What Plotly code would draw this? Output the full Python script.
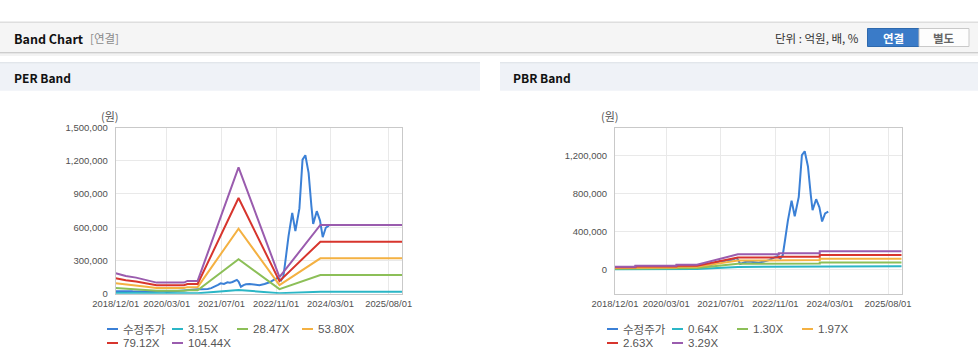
import plotly.graph_objects as go

W, H = 978, 361

# ---------------- data ----------------
price_dates = ["2018-12-01", "2019-01-01", "2019-02-01", "2019-03-01", "2019-04-01", "2019-05-01",
               "2019-06-01", "2019-07-01", "2019-08-01", "2019-09-01", "2019-10-01", "2019-11-01",
               "2019-12-01", "2020-01-01", "2020-02-01", "2020-03-01", "2020-04-01", "2020-05-01",
               "2020-06-01", "2020-07-01", "2020-08-01", "2020-09-01", "2020-10-01", "2020-11-01",
               "2020-12-01", "2021-01-01", "2021-02-01", "2021-03-01", "2021-04-01", "2021-05-01",
               "2021-06-01", "2021-06-24", "2021-07-24", "2021-08-24", "2021-09-15", "2021-10-08",
               "2021-11-16", "2021-12-01", "2021-12-22", "2022-01-15", "2022-02-05", "2022-03-10",
               "2022-04-21", "2022-06-05", "2022-07-21", "2022-09-04", "2022-10-19", "2022-11-20",
               "2022-12-15", "2023-01-05", "2023-01-25", "2023-02-20", "2023-03-25", "2023-04-22",
               "2023-05-28", "2023-06-25", "2023-07-20", "2023-08-18", "2023-09-12", "2023-09-28",
               "2023-10-30", "2023-11-28", "2023-12-22", "2024-01-18", "2024-02-15"]
price_vals = [22000, 24000, 26000, 25000, 23000, 21000,
              20000, 19000, 17000, 18000, 17000, 18000,
              20000, 22000, 24000, 16000, 19000, 22000,
              25000, 27000, 32000, 36000, 35000, 38000,
              40000, 41000, 40000, 42000, 50000, 62000,
              80000, 94000, 88000, 103000, 100000, 106000,
              125000, 110000, 63000, 78000, 85000, 88000,
              85000, 76000, 88000, 103000, 130000, 145000,
              120000, 155000, 310000, 520000, 730000, 565000,
              770000, 1210000, 1250000, 1090000, 790000, 630000,
              745000, 660000, 510000, 595000, 615000]

per_dates = ["2018-12-01", "2019-03-01", "2019-06-01", "2019-09-01", "2019-12-01", "2020-08-01",
             "2020-09-01", "2020-12-01", "2021-12-01", "2022-12-01", "2023-12-01", "2025-12-01"]
per_names = ["3.15X", "28.47X", "53.80X", "79.12X", "104.44X"]
per_3_15 = [5600, 4800, 4400, 3600, 3000, 3000, 3500, 3500, 34400, 4500, 18700, 18700]
per_28_47 = [50400, 43600, 39500, 32700, 27300, 27300, 31300, 31300, 310800, 40900, 169000, 169000]
per_53_80 = [95300, 82400, 74700, 61800, 51500, 51500, 59200, 59200, 587200, 77300, 319400, 319400]
per_79_12 = [140100, 121200, 109900, 90900, 75800, 75800, 87100, 87100, 863600, 113600, 469700, 469700]
per_104_44 = [185000, 160000, 145100, 120000, 100000, 100000, 115000, 115000, 1140000, 150000, 620000, 620000]

pbr_dates = ["2018-12-01", "2019-06-01", "2019-06-01", "2020-06-01", "2020-06-01", "2020-12-01",
             "2021-12-01", "2022-12-01", "2022-12-01", "2023-12-01", "2023-12-01", "2025-12-01"]
pbr_names = ["0.64X", "1.30X", "1.97X", "2.63X", "3.29X"]
pbr_0_64 = [6800, 6800, 8800, 8800, 10700, 10700, 32100, 32100, 34000, 34000, 38500, 38500]
pbr_1_30 = [13800, 13800, 17800, 17800, 21700, 21700, 65200, 65200, 69200, 69200, 78200, 78200]
pbr_1_97 = [21000, 21000, 27000, 27000, 32900, 32900, 98800, 98800, 104800, 104800, 118600, 118600]
pbr_2_63 = [28000, 28000, 36000, 36000, 44000, 44000, 131900, 131900, 139900, 139900, 158300, 158300]
pbr_3_29 = [35000, 35000, 45000, 45000, 55000, 55000, 165000, 165000, 175000, 175000, 198000, 198000]

x_tickvals = ["2018-12-01", "2020-03-01", "2021-07-01", "2022-11-01", "2024-03-01", "2025-08-01"]
x_ticktext = ["2018/12/01", "2020/03/01", "2021/07/01", "2022/11/01", "2024/03/01", "2025/08/01"]
per_yticks = [0, 300000, 600000, 900000, 1200000, 1500000]
pbr_yticks = [0, 400000, 800000, 1200000]

price_name = "수정주가"
colors = ["#3b80d6", "#2bb6c6", "#8cbf58", "#f4b142", "#d7352d", "#9a5cae"]

# ---------------- helpers ----------------
def px(x):
    return x / W


def py(y):
    return 1 - y / H


FONT = "Liberation Sans, Arial, Noto Sans CJK KR, sans-serif"
KFONT = "Noto Sans CJK KR, Liberation Sans, sans-serif"

fig = go.Figure()

per_series = [per_3_15, per_28_47, per_53_80, per_79_12, per_104_44]
pbr_series = [pbr_0_64, pbr_1_30, pbr_1_97, pbr_2_63, pbr_3_29]

fig.add_trace(go.Scatter(x=price_dates, y=price_vals, name=price_name, mode="lines",
                         line=dict(color=colors[0], width=2), xaxis="x", yaxis="y", showlegend=False))
for i, (nm, vals) in enumerate(zip(per_names, per_series)):
    fig.add_trace(go.Scatter(x=per_dates, y=vals, name=nm, mode="lines",
                             line=dict(color=colors[i + 1], width=2), xaxis="x", yaxis="y",
                             showlegend=False))

fig.add_trace(go.Scatter(x=price_dates, y=price_vals, name=price_name, mode="lines",
                         line=dict(color=colors[0], width=2), xaxis="x2", yaxis="y2", showlegend=False))
for i, (nm, vals) in enumerate(zip(pbr_names, pbr_series)):
    fig.add_trace(go.Scatter(x=pbr_dates, y=vals, name=nm, mode="lines",
                             line=dict(color=colors[i + 1], width=2), xaxis="x2", yaxis="y2",
                             showlegend=False))

# ---------------- axes ----------------
ydom = [py(293.7), py(127.5)]
common_x = dict(type="date", range=["2018-12-01", "2025-12-01"], tickvals=x_tickvals,
                ticktext=x_ticktext, showgrid=True, gridcolor="#e9e9e9", gridwidth=1,
                showline=True, linecolor="#c9c9c9", linewidth=1, mirror=True, ticks="",
                tickangle=0, automargin=False,
                tickfont=dict(family=FONT, size=9.4, color="#505050"), ticklabelstandoff=1,
                fixedrange=True, zeroline=False)
common_y = dict(showgrid=True, gridcolor="#e9e9e9", gridwidth=1, showline=True,
                linecolor="#c9c9c9", linewidth=1, mirror=True, ticks="", zeroline=False,
                automargin=False,
                tickfont=dict(family=FONT, size=9.5, color="#505050"), ticklabelstandoff=5,
                fixedrange=True, domain=ydom)

fig.update_layout(
    xaxis=dict(domain=[px(115.7), px(402.3)], anchor="y", **common_x),
    xaxis2=dict(domain=[px(615), px(901.7)], anchor="y2", **common_x),
    yaxis=dict(anchor="x", range=[0, 1500000], tickvals=per_yticks,
               ticktext=[f"{v:,}" for v in per_yticks], **common_y),
    yaxis2=dict(anchor="x2", range=[-250000, 1500000], tickvals=pbr_yticks,
                ticktext=[f"{v:,}" for v in pbr_yticks], **common_y),
)

# ---------------- page chrome ----------------
shapes = []
def rect(x0, y0, x1, y1, fill, line=None, lw=0):
    shapes.append(dict(type="rect", xref="paper", yref="paper", x0=px(x0), x1=px(x1),
                       y0=py(y1), y1=py(y0), fillcolor=fill,
                       line=dict(color=line or fill, width=lw), layer="below"))

# Band Chart bar
rect(0, 21.5, 978, 23, "#dedede")
rect(0, 23, 978, 52, "#f5f5f5")
rect(0, 52, 978, 53, "#cdcdcd")
rect(0, 53, 978, 54.5, "#e6e6e6")
rect(0, 54.5, 978, 56, "#f3f3f3")
# Buttons
rect(867.5, 28.5, 919, 46.5, "#3a7bc8", "#2e69ad", 1)
rect(919, 28.5, 969, 46.5, "#fdfdfd", "#c9c9c9", 1)
# Section headers
rect(0, 62, 480, 63.7, "#e2e6eb")
rect(0, 63.7, 480, 90.7, "#eff2f7")
rect(500, 62, 978, 63.7, "#e2e6eb")
rect(500, 63.7, 978, 90.7, "#eff2f7")

annotations = []
def text(x, y, s, size=12, color="#333333", anchor="left", bold=False, family=KFONT):
    annotations.append(dict(x=px(x), y=py(y), xref="paper", yref="paper", text=s,
                            showarrow=False, xanchor=anchor, yanchor="middle",
                            font=dict(family=family, size=size, color=color,
                                      weight="bold" if bold else "normal")))

text(12, 38, "Band Chart", 12.5, "#111111", bold=True)
text(88, 38.5, "[연결]", 11.5, "#8a8a8a")
text(861, 38.5, "단위 : 억원, 배, %", 11.5, "#333333", anchor="right")
text(893.5, 37.5, "연결", 11.5, "#ffffff", anchor="center", bold=True)
text(944, 37.5, "별도", 11.5, "#666666", anchor="center", bold=True)
text(12, 77.5, "PER Band", 12, "#111111", bold=True)
text(511, 77.5, "PBR Band", 12, "#111111", bold=True)
text(110, 116, "(원)", 11, "#555555", anchor="center")
text(610, 116, "(원)", 11, "#555555", anchor="center")

# Legends (one per chart)
def legend(base, names):
    slots = [(0, 329), (65, 329), (130, 329), (195, 329), (0, 343), (65, 343)]
    for (dx, yy), nm, col in zip(slots, names, colors):
        shapes.append(dict(type="line", xref="paper", yref="paper", x0=px(base + dx),
                           x1=px(base + dx + 11), y0=py(yy), y1=py(yy),
                           line=dict(color=col, width=2)))
        text(base + dx + 14, yy, nm, 11.5, "#555555", family=FONT if nm != price_name else KFONT)

legend(107, [price_name] + per_names)
legend(607, [price_name] + pbr_names)

fig.update_layout(
    width=W, height=H, margin=dict(l=0, r=0, t=0, b=0, pad=0, autoexpand=False),
    paper_bgcolor="#ffffff", plot_bgcolor="#ffffff",
    shapes=shapes, annotations=annotations, showlegend=False,
    font=dict(family=FONT),
)

fig.write_html("out.html", config={"displayModeBar": False},
               post_script=("document.documentElement.style.margin='0';"
                            "document.documentElement.style.padding='0';"
                            "document.documentElement.style.overflow='hidden';"
                            "document.body.style.margin='0';"
                            "document.body.style.padding='0';"
                            "document.body.style.overflow='hidden';"))
